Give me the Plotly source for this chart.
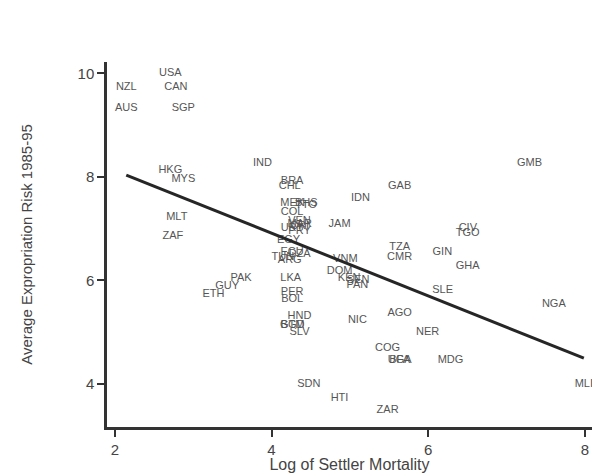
import numpy as np
import plotly.graph_objects as go

codes = ["AGO", "ARG", "AUS", "BFA", "BGD", "BHS", "BOL", "BRA", "CAN", "CHL",
         "CIV", "CMR", "COG", "COL", "CRI", "DOM", "DZA", "ECU", "EGY", "ETH",
         "GAB", "GHA", "GIN", "GMB", "GTM", "GUY", "HKG", "HND", "HTI", "IDN",
         "IND", "JAM", "KEN", "LKA", "MAR", "MDG", "MEX", "MLI", "MLT", "MYS",
         "NER", "NGA", "NIC", "NZL", "PAK", "PAN", "PER", "PRY", "SDN", "SEN",
         "SGP", "SLE", "SLV", "TGO", "TTO", "TUN", "TZA", "UGA", "URY", "USA",
         "VEN", "VNM", "ZAF", "ZAR"]

log_mortality = [5.635, 4.232, 2.146, 5.635, 4.268, 4.443, 4.263, 4.263, 2.779, 4.232,
                 6.505, 5.635, 5.480, 4.263, 4.357, 4.868, 4.359, 4.263, 4.217, 3.258,
                 5.635, 6.504, 6.180, 7.293, 4.263, 3.434, 2.708, 4.357, 4.868, 5.136,
                 3.885, 4.868, 4.990, 4.245, 4.359, 6.284, 4.263, 7.986, 2.791, 2.874,
                 5.993, 7.603, 5.096, 2.146, 3.611, 5.096, 4.263, 4.357, 4.477, 5.104,
                 2.874, 6.184, 4.357, 6.504, 4.443, 4.144, 5.635, 5.635, 4.263, 2.708,
                 4.357, 4.942, 2.741, 5.481]

expropriation_risk = [5.364, 6.386, 9.318, 4.455, 5.136, 7.500, 5.636, 7.909, 9.727, 7.818,
                      7.000, 6.455, 4.682, 7.318, 7.045, 6.182, 6.500, 6.545, 6.773, 5.727,
                      7.818, 6.273, 6.545, 8.273, 5.136, 5.886, 8.136, 5.318, 3.727, 7.591,
                      8.273, 7.091, 6.045, 6.045, 7.091, 4.455, 7.500, 4.000, 7.227, 7.955,
                      5.000, 5.545, 5.227, 9.727, 6.045, 5.909, 5.773, 6.955, 4.000, 6.000,
                      9.318, 5.818, 5.000, 6.909, 7.455, 6.455, 6.636, 4.455, 7.000, 10.000,
                      7.136, 6.409, 6.864, 3.500]

x_ticks = [2, 4, 6, 8]
y_ticks = [4, 6, 8, 10]

# OLS fit line drawn over the data range
slope, intercept = np.polyfit(log_mortality, expropriation_risk, 1)
fit_x = [min(log_mortality), max(log_mortality)]
fit_y = [intercept + slope * v for v in fit_x]

font_family = "Liberation Sans, Arial, Helvetica, sans-serif"

fig = go.Figure()
fig.add_trace(go.Scatter(
    x=log_mortality, y=expropriation_risk, text=codes,
    mode="text", textposition="middle center",
    textfont=dict(family=font_family, size=11, color="#555555"),
    cliponaxis=False, hoverinfo="text", showlegend=False,
))
fig.add_trace(go.Scatter(
    x=fit_x, y=fit_y, mode="lines",
    line=dict(color="#262626", width=3), showlegend=False, hoverinfo="skip",
))

axis_common = dict(
    showline=True, linecolor="#333333", linewidth=2.5,
    ticks="outside", ticklen=7, tickwidth=2, tickcolor="#333333",
    showgrid=False, zeroline=False,
    tickfont=dict(family=font_family, size=15, color="#444444"),
)

fig.update_layout(
    width=592, height=473,
    margin=dict(l=107, r=0, t=62, b=46),
    paper_bgcolor="white", plot_bgcolor="white",
    xaxis=dict(range=[1.90, 8.09], tickvals=x_ticks, ticktext=[str(v) for v in x_ticks],
               title=dict(text="Log of Settler Mortality", standoff=3,
                          font=dict(family=font_family, size=16, color="#444444")),
               **axis_common),
    yaxis=dict(range=[3.17, 10.22], tickvals=y_ticks, ticktext=[str(v) for v in y_ticks],
               title=dict(text="Average Expropriation Risk 1985-95", standoff=42,
                          font=dict(family=font_family, size=15, color="#444444")),
               **axis_common),
)

fig.write_html(
    "out.html",
    config={"displayModeBar": False},
    post_script="document.body.style.margin='0px';document.body.style.overflow='hidden';",
)
